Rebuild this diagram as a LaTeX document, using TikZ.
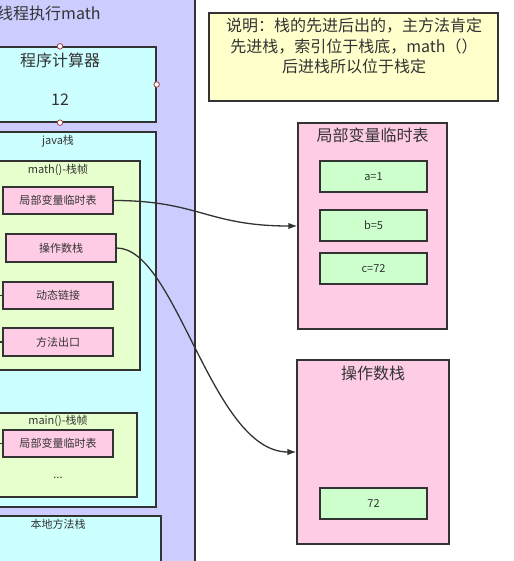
\documentclass[tikz,border=0pt]{standalone}
\usepackage{fontspec}
\setmainfont{Noto Sans CJK SC}
\usetikzlibrary{arrows.meta}
\definecolor{lav}{HTML}{CCCCFF}
\definecolor{cyanbg}{HTML}{CCFFFF}
\definecolor{framebg}{HTML}{E6FFCC}
\definecolor{pinkbg}{HTML}{FFCCE6}
\definecolor{greenbg}{HTML}{CCFFCC}
\definecolor{notebg}{HTML}{FFFFCC}
\definecolor{bd}{HTML}{333333}
\definecolor{txt}{HTML}{333333}
\definecolor{handle}{HTML}{A04040}
\begin{document}
\begin{tikzpicture}[x=1pt,y=-1pt,
  box/.style={draw=bd, line width=1.3pt, rectangle, inner sep=0pt},
  big/.style={text=txt, font=\fontsize{16}{19}\selectfont, inner sep=0pt},
  small/.style={text=txt, font=\fontsize{11}{13}\selectfont, inner sep=0pt},
  conn/.style={draw=bd, line width=1.3pt, -{Latex[length=9pt,width=6.5pt]}},
  stub/.style={draw=bd, line width=1.3pt},
  hnd/.style={circle, draw=handle, fill=white, line width=0.8pt, inner sep=0pt, minimum size=5.5pt}]
\useasboundingbox (0,0) rectangle (513,561);
\clip (0,0) rectangle (513,561);
\fill[white] (0,0) rectangle (513,561);

% thread area
\node[box, fill=lav, minimum width=205pt, minimum height=581pt] (thread) at (92.5,280.5) {};
\node[big, anchor=west] (threadT) at (-3,13) {线程执行math};

% program counter
\node[box, fill=cyanbg, minimum width=192pt, minimum height=75pt] (pc) at (60,84.5) {};
\node[big] (pcT) at (60,60) {程序计算器};
\node[big] (pcV) at (60,100) {12};

% java stack
\node[box, fill=cyanbg, minimum width=192pt, minimum height=375pt] (jstack) at (60,319.5) {};
\node[small] (jstackT) at (58,141) {java栈};

% math frame
\node[box, fill=framebg, minimum width=160pt, minimum height=209pt] (mframe) at (60,265.5) {};
\node[small] (mframeT) at (58,170) {math()-栈帧};
\node[box, fill=pinkbg, minimum width=110pt, minimum height=27pt, small] (mlvt) at (58,200.5) {局部变量临时表};
\node[box, fill=pinkbg, minimum width=110pt, minimum height=28pt, small] (mops) at (61,248) {操作数栈};
\node[box, fill=pinkbg, minimum width=110pt, minimum height=27pt, small] (mdyn) at (58,295.5) {动态链接};
\node[box, fill=pinkbg, minimum width=110pt, minimum height=28pt, small] (mexit) at (58,342) {方法出口};

% main frame
\node[box, fill=framebg, minimum width=157pt, minimum height=84pt] (mainf) at (58.5,455) {};
\node[small] (mainfT) at (58,421) {main()-栈帧};
\node[box, fill=pinkbg, minimum width=110pt, minimum height=27pt, small] (mainlvt) at (58,443.5) {局部变量临时表};
\node[small] (dots) at (58,478) {...};

% native stack
\node[box, fill=cyanbg, minimum width=201pt, minimum height=64pt] (native) at (60.5,548) {};
\node[small] (nativeT) at (58,524) {本地方法栈};

% stubs from the left
\coordinate (s1) at (-5,295.5);
\coordinate (s2) at (-5,342);
\coordinate (s3) at (-5,443.5);
\draw[stub] (s1) -- (mdyn.west);
\draw[stub] (s2) -- (mexit.west);
\draw[stub] (s3) -- (mainlvt.west);

% selection handles
\node[hnd] (h1) at (pc.north) {};
\node[hnd] (h2) at (pc.east) {};
\node[hnd] (h3) at (pc.south) {};

% note
\node[box, fill=notebg, minimum width=289pt, minimum height=88pt] (note) at (353.5,57) {};
\node[big, align=center, anchor=north, font=\fontsize{16}{20.5}\selectfont] (noteT) at (354,18)
  {说明：栈的先进后出的，主方法肯定\\先进栈，索引位于栈底，math（）\\后进栈所以位于栈定};

% local variable table
\node[box, fill=pinkbg, minimum width=149pt, minimum height=206pt] (lvt) at (372.5,226) {};
\node[big] (lvtT) at (372.5,135) {局部变量临时表};
\node[box, fill=greenbg, minimum width=107pt, minimum height=31pt, small] (va) at (373.5,176.5) {a=1};
\node[box, fill=greenbg, minimum width=107pt, minimum height=31pt, small] (vb) at (373.5,225.5) {b=5};
\node[box, fill=greenbg, minimum width=107pt, minimum height=31pt, small] (vc) at (373.5,268.5) {c=72};

% operand stack
\node[box, fill=pinkbg, minimum width=152pt, minimum height=184pt] (ops) at (373,452) {};
\node[big] (opsT) at (373,373) {操作数栈};
\node[box, fill=greenbg, minimum width=107pt, minimum height=31pt, small] (o72) at (373.5,503.5) {72};

% connectors
\draw[conn] (mlvt.east) .. controls +(85,0) and +(-90,0) .. (lvt.west);
\draw[conn] (mops.east) .. controls +(60,0) and +(-85,0) .. (ops.west);
\end{tikzpicture}
\end{document}
